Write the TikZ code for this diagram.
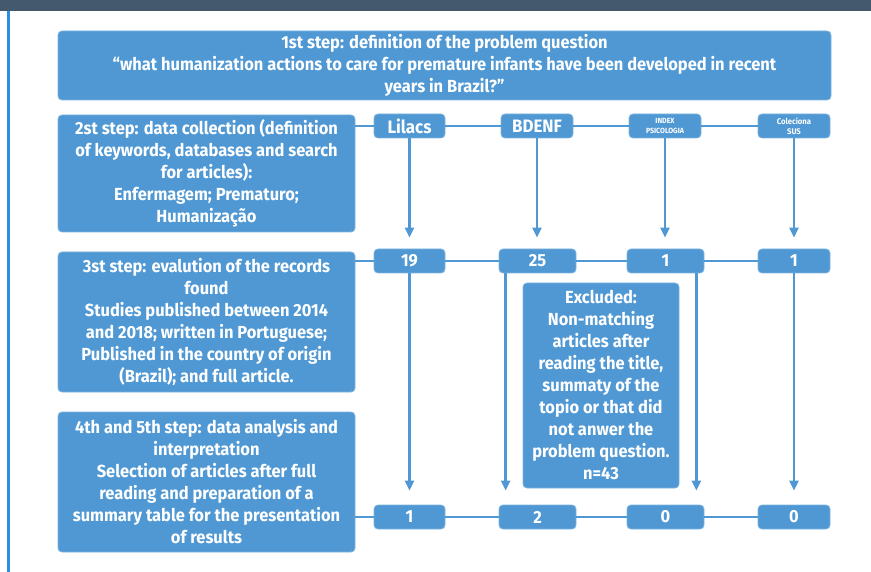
\documentclass[tikz,border=0pt]{standalone}
\usepackage{fontspec}
\setmainfont{Fira Sans}[FakeStretch=0.94]
\usepackage{tikz}
\usetikzlibrary{arrows.meta,calc}
\usepackage{xcolor}
\definecolor{boxblue}{HTML}{4F98D3}
\definecolor{boxedge}{HTML}{7DB4E0}
\definecolor{linkblue}{HTML}{4F98D3}
\definecolor{sidebar}{HTML}{2D8FDD}
\definecolor{topbar}{HTML}{44596E}
\begin{document}
\begin{tikzpicture}[x=1pt,y=-1pt,>={Triangle[width=9pt,length=10pt]},
  stepbox/.style={draw=boxedge,line width=0.8pt,fill=boxblue,rounded corners=4pt,text=white,
    font=\fontsize{17.5}{22}\selectfont\bfseries,align=center,inner sep=0pt},
  dbbox/.style={stepbox,minimum height=24pt},
  link/.style={linkblue,line width=2.4pt},
  flow/.style={link,->,shorten >=11pt}]
  \useasboundingbox (0,0) rectangle (871,572);
  % frame of the page
  \fill[topbar] (0,0) rectangle (871,11);
  \draw[sidebar,line width=3pt] (8.5,11) -- (8.5,572);
  % the four steps
  \node[stepbox,minimum width=773pt,minimum height=69pt] (s1) at (444.5,65.5)
    {1st step: definition of the problem question\\
     “what humanization actions to care for premature infants have been developed in recent\\
     years in Brazil?”};
  \node[stepbox,minimum width=297pt,minimum height=117pt] (s2) at (206.5,173.5)
    {2st step: data collection (definition\\ of keywords, databases and search\\ for articles):\\
     Enfermagem; Prematuro;\\ Humanização};
  \node[stepbox,minimum width=297pt,minimum height=140pt] (s3) at (206.5,322)
    {3st step: evalution of the records\\ found\\ Studies published between 2014\\
     and 2018; written in Portuguese;\\ Published in the country of origin\\ (Brazil); and full article.};
  \node[stepbox,minimum width=297pt,minimum height=140pt] (s4) at (206.5,482)
    {4th and 5th step: data analysis and\\ interpretation\\ Selection of articles after full\\
     reading and preparation of a\\ summary table for the presentation\\ of results};
  % databases
  \node[dbbox,minimum width=71pt,font=\fontsize{18}{22}\selectfont\bfseries] (lilacs) at (409.5,126) {Lilacs};
  \node[dbbox,minimum width=72pt,font=\fontsize{18}{22}\selectfont\bfseries] (bdenf) at (537,126) {BDENF};
  \node[dbbox,minimum width=72pt,font=\fontsize{7.5}{9.5}\selectfont\bfseries] (index) at (665,126) {INDEX\\ PSICOLOGIA};
  \node[dbbox,minimum width=72pt,font=\fontsize{8.2}{10.5}\selectfont\bfseries] (colec) at (794,126) {Coleciona\\ SUS};
  % records found
  \node[dbbox,minimum width=71pt] (nlil) at (409.5,261) {19};
  \node[dbbox,minimum width=77pt] (nbde) at (537.5,261) {25};
  \node[dbbox,minimum width=77pt] (nind) at (665.5,261) {1};
  \node[dbbox,minimum width=72pt] (ncol) at (794,261) {1};
  % selected articles
  \node[dbbox,minimum width=71pt] (flil) at (409.5,517) {1};
  \node[dbbox,minimum width=77pt] (fbde) at (537.5,517) {2};
  \node[dbbox,minimum width=77pt] (find) at (665.5,517) {0};
  \node[dbbox,minimum width=72pt] (fcol) at (794,517) {0};
  \node[stepbox,minimum width=156pt,minimum height=205pt] (excl) at (601,385.5)
    {Excluded:\\ Non-matching\\ articles after\\ reading the title,\\ summaty of the\\
     topio or that did\\ not anwer the\\ problem question.\\ n=43};
  % horizontal links
  \draw[link] (s2.east |- lilacs) -- (lilacs) -- (bdenf) -- (index) -- (colec);
  \draw[link] (s3.east |- nlil) -- (nlil) -- (nbde) -- (nind) -- (ncol);
  \draw[link] (s4.east |- flil) -- (flil) -- (fbde) -- (find) -- (fcol);
  % downward arrows
  \draw[flow] (lilacs) -- (nlil);
  \draw[flow] (bdenf) -- (bdenf |- nbde.north);
  \draw[flow] (index) -- (index |- nind.north);
  \draw[flow] (colec) -- (ncol);
  \draw[flow,shorten >=14pt] (nlil) -- (flil);
  \draw[flow,shorten >=14pt] ([xshift=7pt]nbde.south west) -- ([xshift=7pt]fbde.north west);
  \draw[flow,shorten >=14pt] ([xshift=-8pt]nind.south east) -- ([xshift=-8pt]find.north east);
  \draw[flow,shorten >=14pt] (ncol) -- (fcol);
\end{tikzpicture}
\end{document}
